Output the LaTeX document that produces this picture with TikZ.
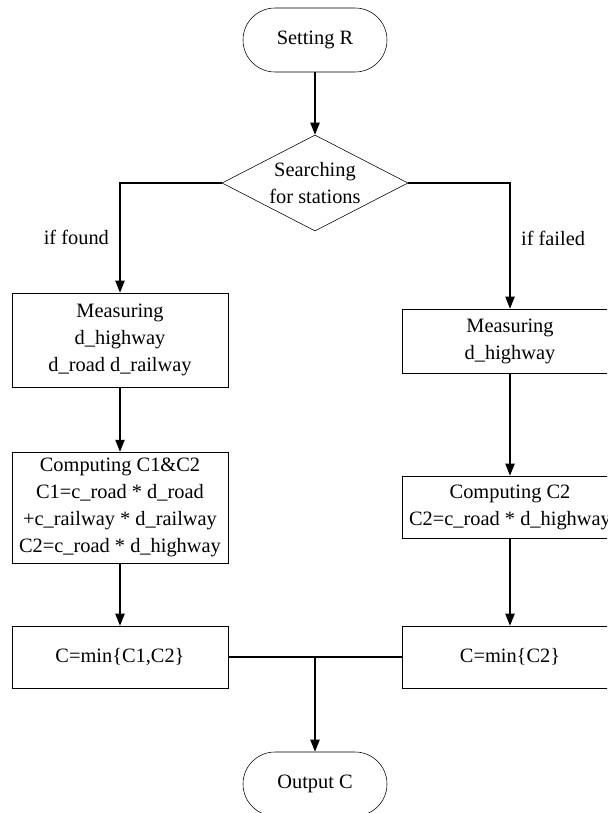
\documentclass[tikz,border=0pt]{standalone}
\usepackage{fontspec}
\setmainfont{Liberation Serif}
\usetikzlibrary{shapes,arrows.meta,positioning}

\begin{document}
\begin{tikzpicture}[
    font=\fontsize{14.5}{19.2}\selectfont,
    terminal/.style={rectangle, draw, rounded corners=0.8cm, minimum width=3.6cm, minimum height=1.6cm, align=center},
    decision/.style={diamond, draw, aspect=1.94, inner sep=0pt, minimum width=4.65cm, minimum height=2.4cm, align=center},
    box/.style={rectangle, draw, minimum width=5.4cm, align=center},
    arrow/.style={-{Triangle[length=3mm, width=2.3mm]}, line width=1.1pt},
    line/.style={line width=1.1pt}
]
\clip (0, 0) rectangle (15.175, -20.325);

% Start and search
\node[terminal] (setr) at (7.875, -1) {Setting R};
\node[decision] (search) at (7.875, -4.575) {Searching\\for stations};

% Found branch
\node[box, minimum height=2.35cm] (measfound) at (3, -8.5) {Measuring\\d\_highway\\d\_road d\_railway};
\node[box, minimum height=2.775cm] (compfound) at (3, -12.69) {Computing C1\&C2\\C1=c\_road * d\_road\\+c\_railway * d\_railway\\C2=c\_road * d\_highway};
\node[box, minimum height=1.55cm] (minfound) at (3, -16.425) {C=min\{C1,C2\}};

% Failed branch
\node[box, minimum height=1.6cm] (measfailed) at (12.75, -8.525) {Measuring\\d\_highway};
\node[box, minimum height=1.55cm] (compfailed) at (12.75, -12.675) {Computing C2\\C2=c\_road * d\_highway};
\node[box, minimum height=1.55cm] (minfailed) at (12.75, -16.425) {C=min\{C2\}};

% Output
\node[terminal] (outc) at (7.875, -19.6) {Output C};
\coordinate (merge) at (7.875, -16.425);

% Flow
\draw[arrow] (setr) -- (search);
\draw[arrow] (search.west) -| node[pos=0.75, left=4pt] {if found} (measfound.north);
\draw[arrow] (search.east) -| node[pos=0.72, right=4pt] {if failed} (measfailed.north);
\draw[arrow] (measfound) -- (compfound);
\draw[arrow] (compfound) -- (minfound);
\draw[arrow] (measfailed) -- (compfailed);
\draw[arrow] (compfailed) -- (minfailed);
\draw[line] (minfound) -- (minfailed);
\draw[arrow] (merge) -- (outc);

\end{tikzpicture}
\end{document}
